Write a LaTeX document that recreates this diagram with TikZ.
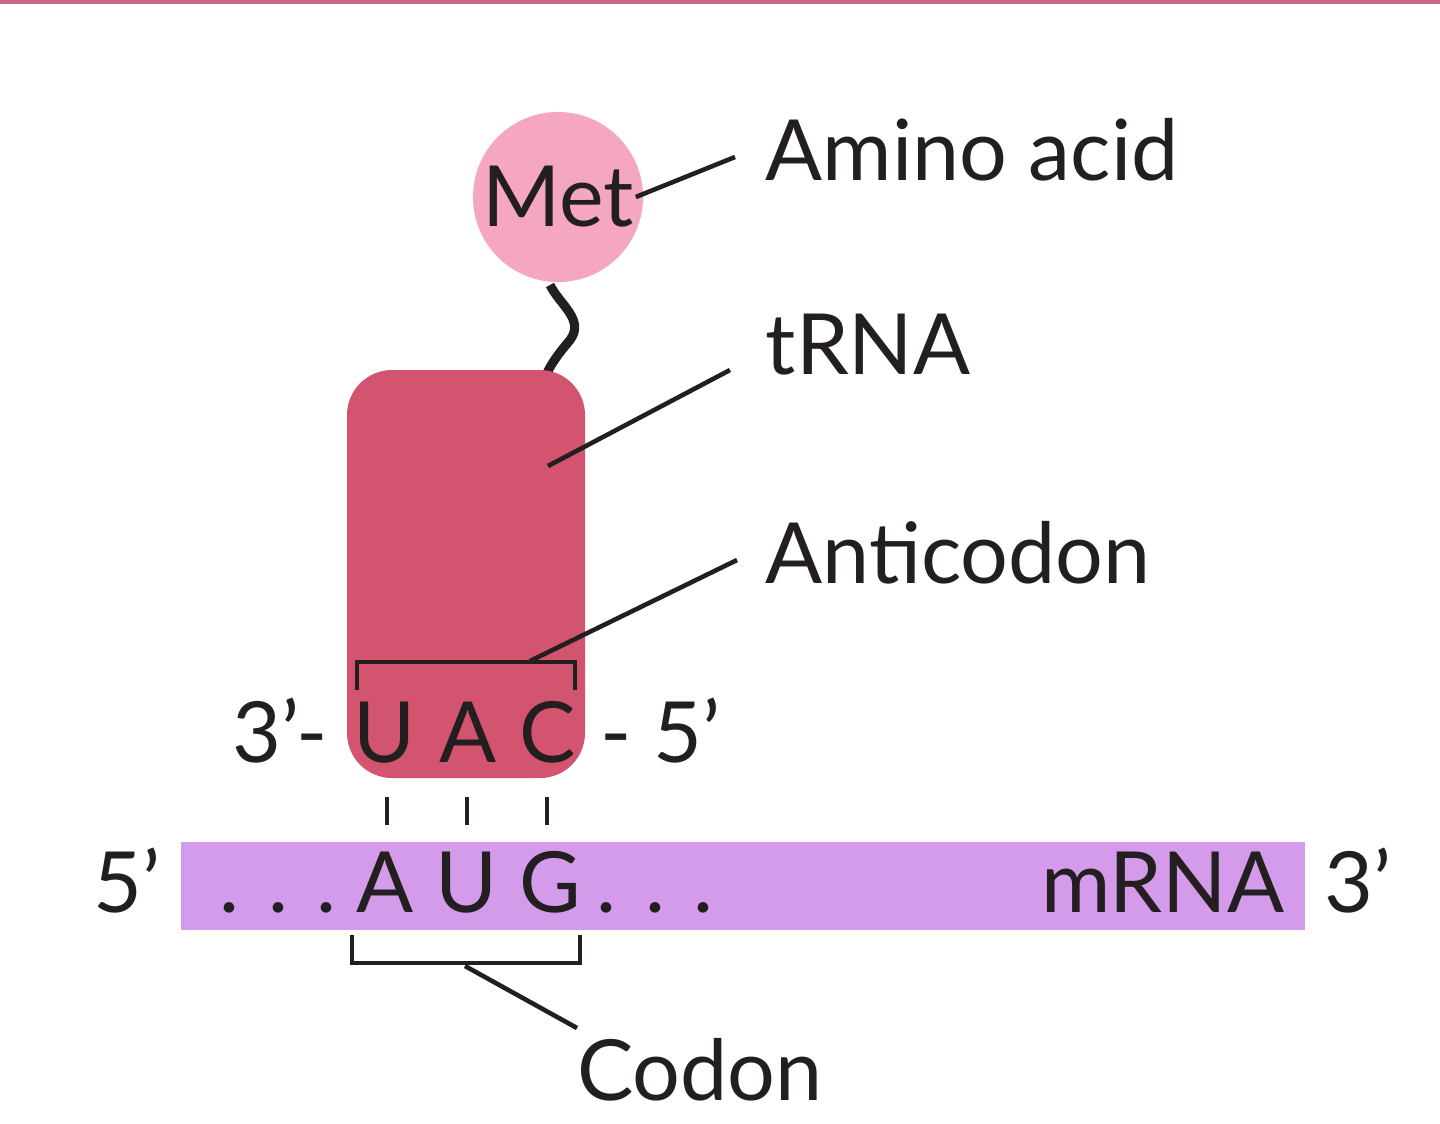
\documentclass[tikz,border=0pt]{standalone}
\usepackage{fontspec}
\setmainfont{Lato}
\definecolor{topline}{HTML}{C8678A}
\definecolor{metpink}{HTML}{F4A6C2}
\definecolor{trnared}{HTML}{D2546E}
\definecolor{mrnalilac}{HTML}{D49BEB}
\definecolor{ink}{HTML}{231F20}
\tikzset{
  lbl/.style={text=ink,font=\fontsize{24}{28}\selectfont,inner sep=0pt},
  base/.style={lbl,anchor=base},
  leader/.style={draw=ink,line width=1.3pt},
}
\begin{document}
\begin{tikzpicture}[x=0.01cm,y=-0.01cm]
\useasboundingbox (0,0) rectangle (1440,1123);
\fill[topline] (0,0) rectangle (1440,4);
% amino acid
\node[circle,fill=metpink,minimum size=1.7cm,lbl] (met) at (558,197) {Met};
\node[lbl,anchor=west] (amino) at (765,150) {Amino acid};
\draw[leader] (met.east) ++(-8,0) -- (735,157);
\draw[ink,line width=2.6pt] (550,285) .. controls (560,305) and (585,320) .. (570,340)
  .. controls (560,352) and (552,362) .. (546,375);
% tRNA
\fill[trnared,rounded corners=0.45cm] (347,370) rectangle (585,778);
\coordinate (body) at (548,466);
\node[lbl,anchor=west] (trna) at (765,345) {tRNA};
\draw[leader] (body) -- (730,370);
\draw[leader] (357,690) -- (357,662) -- (575,662) -- (575,690);
\coordinate (anti) at (530,661);
\node[lbl,anchor=west] (anticodon) at (765,553) {Anticodon};
\draw[leader] (anti) -- (737,560);
\node[base] (t3) at (280,762) {3’-};
\node[base] (u1) at (385,762) {U};
\node[base] (a1) at (468,762) {A};
\node[base] (c1) at (548,762) {C};
\node[base] (t5) at (660,762) {- 5’};
\foreach \x in {387,467,547}
  \draw[leader] (\x,797) -- (\x,825);
% mRNA
\fill[mrnalilac] (181,842) rectangle (1305,930);
\node[base] (m5) at (127,912) {5’};
\node[base] (m3) at (1358,912) {3’};
\node[base] (dl) at (278,912) {. . .};
\node[base] (a2) at (385,912) {A};
\node[base] (u2) at (467,912) {U};
\node[base] (g2) at (550,912) {G};
\node[base] (dr) at (655,912) {. . .};
\node[base,anchor=base east] (mrna) at (1285,912) {mRNA};
\draw[leader] (352,935) -- (352,963) -- (580,963) -- (580,935);
\coordinate (cod) at (465,966);
\node[lbl] (codon) at (700,1070) {Codon};
\draw[leader] (cod) -- (577,1028);
\end{tikzpicture}
\end{document}
